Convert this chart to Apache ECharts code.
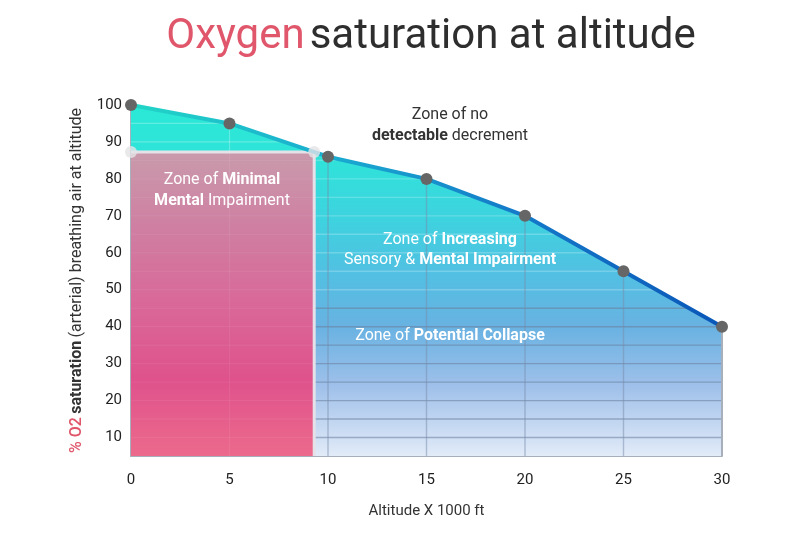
<!DOCTYPE html>
<html>
<head>
<meta charset="utf-8">
<script src="https://cdn.jsdelivr.net/npm/echarts@6/dist/echarts.min.js"></script>
<style>html,body{margin:0;padding:0;background:#fff}#c{width:800px;height:544px}</style>
</head>
<body>
<div id="c"></div>
<script>
// ---- data ----
const altitude = [0, 5, 10, 15, 20, 25, 30];          // x 1000 ft
const saturation = [100, 95, 86, 80, 70, 55, 40];      // % O2 saturation
const minimalZoneEdge = [9.3, 87.3];                   // [altitude, saturation] corner of "minimal impairment" zone
const yMin = 5, yMax = 100, yStep = 5;
const verticalGrid = [5, 10, 15, 20, 25];

const FONT = 'Roboto';
const chart = echarts.init(document.getElementById('c'), null, {renderer: 'canvas'});

function curveAt(x) {
  for (let i = 0; i < altitude.length - 1; i++) {
    if (x >= altitude[i] && x <= altitude[i + 1]) {
      const t = (x - altitude[i]) / (altitude[i + 1] - altitude[i]);
      return saturation[i] + t * (saturation[i + 1] - saturation[i]);
    }
  }
  return saturation[saturation.length - 1];
}
function crossAt(v) {
  for (let i = 0; i < altitude.length - 1; i++) {
    if (saturation[i] >= v && saturation[i + 1] <= v) {
      return altitude[i] + (saturation[i] - v) / (saturation[i] - saturation[i + 1]) * (altitude[i + 1] - altitude[i]);
    }
  }
  return altitude[altitude.length - 1];
}

const pts = altitude.map((a, i) => [a, saturation[i]]);
const xEnd = altitude[altitude.length - 1];

function seg(api, a, b, color, w) {
  const p1 = api.coord(a), p2 = api.coord(b);
  return {type: 'line', shape: {x1: p1[0], y1: p1[1], x2: p2[0], y2: p2[1]}, style: {stroke: color, lineWidth: w}};
}

// grid lines drawn inside the blue area only
function renderBlueGrid(params, api) {
  const children = [];
  const ex = minimalZoneEdge[0], ey = minimalZoneEdge[1];
  for (let v = yMin + yStep; v < yMax; v += yStep) {
    const end = crossAt(v);
    const col = v < 50 ? 'rgba(105,125,155,0.55)' : 'rgba(255,255,255,0.22)';
    if (v > ey) {
      children.push(seg(api, [0, v], [end, v], 'rgba(255,255,255,0.25)', 1.2));
    } else if (end > ex) {
      children.push(seg(api, [ex, v], [end, v], col, 1.4));
    }
  }
  verticalGrid.forEach(x => {
    const top = curveAt(x);
    if (x > ex) {
      children.push(seg(api, [x, yMin], [x, top], 'rgba(120,140,170,0.5)', 1.4));
    } else {
      children.push(seg(api, [x, ey], [x, top], 'rgba(255,255,255,0.25)', 1.2));
    }
  });
  // right border of area
  children.push(seg(api, [xEnd, yMin], [xEnd, curveAt(xEnd)], '#a7afbb', 2));
  return {type: 'group', children};
}

// pink "minimal impairment" zone
function renderPink(params, api) {
  const ex = minimalZoneEdge[0], ey = minimalZoneEdge[1];
  const tl = api.coord([0, ey]), br = api.coord([ex, yMin]);
  const children = [{
    type: 'rect',
    shape: {x: tl[0], y: tl[1], width: br[0] - tl[0], height: br[1] - tl[1]},
    style: {fill: new echarts.graphic.LinearGradient(0, 0, 0, 1, [
      {offset: 0, color: '#c99aab'},
      {offset: 0.25, color: '#cf7fa2'},
      {offset: 0.5, color: '#d96898'},
      {offset: 0.75, color: '#df528c'},
      {offset: 1, color: '#ec6a8c'}
    ])}
  }];
  for (let v = yMin + yStep; v < ey; v += yStep) {
    children.push(seg(api, [0, v], [ex, v], 'rgba(255,255,255,0.07)', 1));
  }
  verticalGrid.forEach(x => { if (x < ex) children.push(seg(api, [x, yMin], [x, ey], 'rgba(255,255,255,0.07)', 1)); });
  children.push(seg(api, [0, ey], [ex, ey], '#e4e2e8', 3));
  children.push(seg(api, [ex, ey], [ex, yMin], '#e4e2e8', 3));
  return {type: 'group', children};
}

function rich(color, lh) {
  return {
    n: {fontFamily: FONT, fontSize: 16, fill: color, lineHeight: lh},
    b: {fontFamily: FONT, fontSize: 16, fill: color, fontWeight: 'bold', lineHeight: lh}
  };
}

const option = {
  backgroundColor: '#ffffff',
  animation: false,
  title: {
    text: '{r|Oxygen} {d|saturation at altitude}',
    left: 426, top: 11, textAlign: 'center',
    textStyle: {
      rich: {
        r: {fontFamily: FONT, fontSize: 42, color: '#e0566a', fontWeight: 400},
        d: {fontFamily: FONT, fontSize: 42, color: '#2e2e2e', fontWeight: 400}
      }
    }
  },
  grid: {left: 131, right: 78, top: 105, bottom: 88},
  xAxis: {
    type: 'value', min: 0, max: 30, interval: 5,
    name: 'Altitude X 1000 ft', nameLocation: 'middle', nameGap: 48,
    nameTextStyle: {fontFamily: FONT, fontSize: 15, color: '#333'},
    axisLine: {show: true, lineStyle: {color: '#a7afbb', width: 2}},
    axisTick: {show: false},
    splitLine: {show: false},
    axisLabel: {fontFamily: FONT, fontSize: 15, color: '#222', margin: 17}
  },
  yAxis: {
    type: 'value', min: yMin, max: yMax, interval: yStep,
    name: '{r|% O2} {b|saturation} {n|(arterial) breathing air at altitude}',
    nameLocation: 'middle', nameGap: 46, nameRotate: 90,
    nameTextStyle: {
      rich: {
        r: {fontFamily: FONT, fontSize: 16, color: '#e0566a', fontWeight: 500},
        b: {fontFamily: FONT, fontSize: 16, color: '#333', fontWeight: 'bold'},
        n: {fontFamily: FONT, fontSize: 16, color: '#333'}
      }
    },
    axisLine: {show: true, lineStyle: {color: '#a7afbb', width: 2}},
    axisTick: {show: false},
    splitLine: {show: false},
    axisLabel: {
      fontFamily: FONT, fontSize: 15, color: '#222', margin: 9,
      formatter: v => (v % 10 === 0 ? String(v) : '')
    }
  },
  graphic: [
    {type: 'text', x: 450, y: 125, z: 100, silent: true, style: {
      text: '{n|Zone of no}\n{b|detectable}{n| decrement}', align: 'center', verticalAlign: 'middle',
      rich: rich('#333', 21)
    }},
    {type: 'text', x: 222, y: 190, z: 100, silent: true, style: {
      text: '{n|Zone of }{b|Minimal}\n{b|Mental}{n| Impairment}', align: 'center', verticalAlign: 'middle',
      rich: rich('#ffffff', 21)
    }},
    {type: 'text', x: 450, y: 250, z: 100, silent: true, style: {
      text: '{n|Zone of }{b|Increasing}\n{n|Sensory & }{b|Mental Impairment}', align: 'center', verticalAlign: 'middle',
      rich: rich('#ffffff', 20)
    }},
    {type: 'text', x: 450, y: 336, z: 100, silent: true, style: {
      text: '{n|Zone of }{b|Potential Collapse}', align: 'center', verticalAlign: 'middle',
      rich: rich('#ffffff', 20)
    }}
  ],
  series: [
    {
      name: 'area', type: 'line', data: pts, z: 1, symbol: 'none', silent: true,
      lineStyle: {width: 0},
      areaStyle: {
        origin: 'start',
        opacity: 1,
        color: new echarts.graphic.LinearGradient(0, 0, 0, 1, [
          {offset: 0, color: '#2ae9d6'},
          {offset: 0.15, color: '#2fe3d9'},
          {offset: 0.32, color: '#3dd3df'},
          {offset: 0.48, color: '#52c0e2'},
          {offset: 0.63, color: '#68b2e2'},
          {offset: 0.8, color: '#9fc0ea'},
          {offset: 1, color: '#e2ebf8'}
        ])
      }
    },
    {name: 'grid', type: 'custom', data: [0], z: 2, silent: true, renderItem: renderBlueGrid},
    {name: 'pink', type: 'custom', data: [0], z: 3, silent: true, renderItem: renderPink},
    {
      name: 'saturation', type: 'line', data: pts, z: 5,
      symbol: 'circle', symbolSize: 12,
      itemStyle: {color: '#666666', borderWidth: 0},
      lineStyle: {
        width: 4,
        color: new echarts.graphic.LinearGradient(0, 0, 1, 0, [
          {offset: 0, color: '#22d6c6'},
          {offset: 0.35, color: '#19aad0'},
          {offset: 0.65, color: '#147ac9'},
          {offset: 1, color: '#0a56b8'}
        ])
      }
    },
    {
      name: 'edge', type: 'scatter', z: 6, symbolSize: 12,
      data: [[0, minimalZoneEdge[1]], [minimalZoneEdge[0], minimalZoneEdge[1]]],
      itemStyle: {color: '#e4e4e6'}
    }
  ]
};
chart.setOption(option);
</script>
</body>
</html>
